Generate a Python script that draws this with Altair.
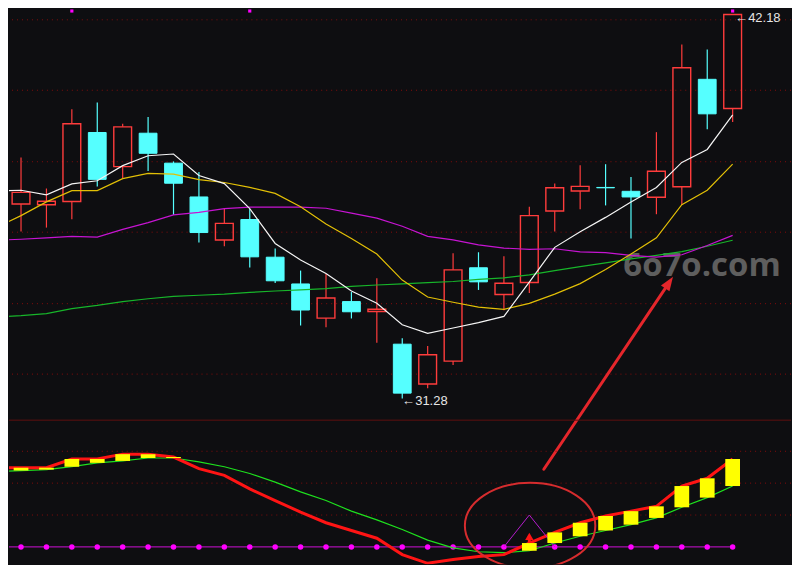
import altair as alt
import pandas as pd

# ---------------- data ----------------
idx = list(range(29))
opens = [36.80, 36.78, 36.87, 38.83, 37.86, 38.81, 37.96, 37.00, 35.78, 36.36,
         35.29, 34.53, 33.56, 34.03, 33.75, 32.82, 31.69, 32.34, 34.99, 34.23,
         34.57, 36.60, 37.17, 37.27, 37.16, 36.99, 37.29, 40.34, 39.51]
closes = [37.13, 36.88, 39.08, 37.50, 38.99, 38.24, 37.39, 35.99, 36.25, 35.30,
          34.62, 33.79, 34.13, 33.74, 33.81, 31.43, 32.52, 34.93, 34.59, 34.55,
          36.47, 37.26, 37.30, 37.26, 37.00, 37.73, 40.67, 39.36, 42.18]
highs = [38.12, 37.24, 39.49, 39.68, 39.08, 39.27, 38.01, 37.71, 36.66, 36.66,
         35.54, 34.91, 34.81, 34.30, 34.69, 32.99, 32.77, 35.40, 35.43, 35.32,
         36.72, 37.38, 37.90, 37.93, 37.57, 38.84, 41.33, 41.19, 42.18]
lows = [36.02, 36.13, 36.37, 37.30, 37.54, 37.74, 36.49, 35.71, 35.60, 35.00,
        34.56, 33.35, 33.30, 33.55, 32.86, 31.28, 31.57, 32.23, 34.36, 33.78,
        34.27, 36.02, 36.65, 36.76, 35.82, 36.51, 36.77, 38.92, 39.13]

ma_idx = list(range(-1, 29))
ma5 = [37.17, 37.19, 37.06, 37.37, 37.46, 37.89, 38.17, 38.22, 37.61, 37.38,
       36.67, 35.68, 35.21, 34.83, 34.33, 33.98, 33.37, 33.13, 33.28, 33.43,
       33.61, 34.58, 35.57, 36.01, 36.42, 36.86, 37.27, 37.98, 38.35, 39.33]
ma10 = [36.12, 36.47, 36.86, 37.18, 37.18, 37.52, 37.67, 37.65, 37.49, 37.41,
        37.27, 37.10, 36.72, 36.23, 35.82, 35.38, 34.64, 34.16, 34.01, 33.87,
        33.81, 33.98, 34.24, 34.54, 34.94, 35.38, 35.84, 36.78, 37.19, 37.93]
ma20 = [35.77, 35.80, 35.84, 35.88, 35.86, 36.08, 36.27, 36.49, 36.56, 36.67,
        36.71, 36.71, 36.71, 36.68, 36.54, 36.40, 36.17, 35.88, 35.78, 35.64,
        35.55, 35.51, 35.53, 35.44, 35.42, 35.34, 35.29, 35.36, 35.62, 35.91]
ma60 = [33.59, 33.63, 33.69, 33.83, 33.92, 34.03, 34.11, 34.18, 34.21, 34.24,
        34.29, 34.33, 34.36, 34.40, 34.46, 34.50, 34.53, 34.57, 34.60, 34.66,
        34.70, 34.79, 34.91, 35.02, 35.13, 35.24, 35.34, 35.45, 35.60, 35.77]

dif = [0.82, 0.82, 0.82, 0.91, 0.91, 0.96, 0.96, 0.93, 0.81, 0.74,
       0.60, 0.48, 0.36, 0.25, 0.17, 0.09, -0.08, -0.17, -0.13, -0.10,
       -0.08, 0.04, 0.15, 0.25, 0.32, 0.37, 0.42, 0.63, 0.71, 0.91]
dea = [0.78, 0.79, 0.80, 0.83, 0.87, 0.89, 0.92, 0.92, 0.88, 0.83,
       0.76, 0.67, 0.57, 0.48, 0.37, 0.28, 0.18, 0.07, -0.01, -0.05,
       -0.06, -0.04, 0.04, 0.11, 0.17, 0.23, 0.30, 0.41, 0.51, 0.63]
sig = [0.0] * 30

grid_levels = [42.03, 40.03, 38.00, 36.00, 33.97, 31.97]
macd_grid = [0.99, 0.66, 0.33]
top_mark_idx = [2, 9, 28]
top_mark_p = [42.28, 42.28, 42.28]
label_idx = [15.0, 28.1]
label_p = [31.21, 42.09]
label_txt = ["←31.28", "←42.18"]
wm_idx = [23.7]
wm_p = [35.05]
wm_txt = ["6o7o.com"]
tri_idx = [19, 20, 21]
tri_v = [0.0, 0.33, 0.0]
arrow_idx = [20.57, 25.50]
arrow_p = [29.27, 34.57]
ell_idx = [20.03]
ell_v = [0.22]
sm_arrow_idx = [20, 20]
sm_arrow_v = [0.04, 0.11]

# ---------------- styling ----------------
BG = "#0e0e11"
RED = "#ff3c3c"
CYAN = "#55ffff"
W, H1, H2 = 784, 412, 145

xs = alt.Scale(domain=[-0.473, 30.296], nice=False, zero=False)
ys = alt.Scale(domain=[30.677, 42.345], nice=False, zero=False)
ls = alt.Scale(domain=[-0.18, 1.317], nice=False, zero=False)


def X(f):
    return alt.X(f, type="quantitative", scale=xs, axis=None)


def Y(f):
    return alt.Y(f, type="quantitative", scale=ys, axis=None)


def L(f):
    return alt.Y(f, type="quantitative", scale=ls, axis=None)


# ---------------- main (price) panel ----------------
grid = alt.Chart(pd.DataFrame({"g": grid_levels})).mark_rule(
    color="#850c0c", strokeDash=[1, 4], strokeWidth=1
).encode(y=Y("g"))

wm = alt.Chart(pd.DataFrame({"i": wm_idx, "p": wm_p, "t": wm_txt})).mark_text(
    align="left", baseline="middle", font="Open Sans", fontWeight="bold",
    fontSize=33, color="#5e5e5e"
).encode(x=X("i"), y=Y("p"), text="t:N")

kdf = pd.DataFrame({"i": idx, "o": opens, "c": closes, "h": highs, "l": lows})
kbase = alt.Chart(kdf).transform_calculate(
    top="max(datum.o, datum.c)",
    bot="min(datum.o, datum.c)",
    xa="datum.i - 0.35",
    xb="datum.i + 0.35",
)
up = kbase.transform_filter("datum.c >= datum.o")
dn = kbase.transform_filter("datum.c < datum.o")

up_hi = up.mark_rule(color=RED, strokeWidth=1.2).encode(x=X("i"), y=Y("h"), y2="top:Q")
up_lo = up.mark_rule(color=RED, strokeWidth=1.2).encode(x=X("i"), y=Y("bot"), y2="l:Q")
up_body = up.mark_rect(filled=False, color=RED, strokeWidth=1.4).encode(
    x=X("xa"), x2="xb:Q", y=Y("top"), y2="bot:Q")
dn_wick = dn.mark_rule(color=CYAN, strokeWidth=1.2).encode(x=X("i"), y=Y("h"), y2="l:Q")
dn_body = dn.mark_rect(color=CYAN, stroke=CYAN, strokeWidth=1).encode(
    x=X("xa"), x2="xb:Q", y=Y("top"), y2="bot:Q")

mdf = pd.DataFrame({"i": ma_idx, "ma5": ma5, "ma10": ma10, "ma20": ma20, "ma60": ma60})
mbase = alt.Chart(mdf)
l60 = mbase.mark_line(color="#17b52a", strokeWidth=1.2, clip=True).encode(x=X("i"), y=Y("ma60"))
l20 = mbase.mark_line(color="#c614d2", strokeWidth=1.2, clip=True).encode(x=X("i"), y=Y("ma20"))
l10 = mbase.mark_line(color="#e2bf06", strokeWidth=1.2, clip=True).encode(x=X("i"), y=Y("ma10"))
l5 = mbase.mark_line(color="#f4f4f4", strokeWidth=1.2, clip=True).encode(x=X("i"), y=Y("ma5"))

topm = alt.Chart(pd.DataFrame({"i": top_mark_idx, "p": top_mark_p})).mark_point(
    shape="square", filled=True, size=10, color="#ff00ff", opacity=1
).encode(x=X("i"), y=Y("p"))

labels = alt.Chart(pd.DataFrame({"i": label_idx, "p": label_p, "t": label_txt})).mark_text(
    align="left", baseline="middle", font="Liberation Sans", fontSize=13, color="#e6e6e6"
).encode(x=X("i"), y=Y("p"), text="t:N")

adf = pd.DataFrame({"i": arrow_idx, "p": arrow_p})
arrow_line = alt.Chart(adf).mark_line(color="#e5262b", strokeWidth=3, strokeCap="round").encode(
    x=X("i"), y=Y("p"))
arrow_head = alt.Chart(adf.iloc[[1]]).mark_point(
    shape="M 0 -1 L 0.72 1 L -0.72 1 Z", filled=True, size=200, angle=33.6,
    color="#e5262b", opacity=1
).encode(x=X("i"), y=Y("p"))

main = alt.layer(
    grid, wm, up_hi, up_lo, up_body, dn_wick, dn_body, l60, l20, l10, l5,
    topm, labels, arrow_line, arrow_head
).properties(width=W, height=H1)

# ---------------- lower (indicator) panel ----------------
sep = alt.Chart(pd.DataFrame({"k": [0]})).mark_rule(color="#5e1010", strokeWidth=1).encode(
    y=alt.value(0.5))
lgrid = alt.Chart(pd.DataFrame({"g": macd_grid})).mark_rule(
    color="#850c0c", strokeDash=[1, 4], strokeWidth=1
).encode(y=L("g"))

ldf = pd.DataFrame({"i": ma_idx, "dif": dif, "dea": dea, "sig": sig})
lbase = alt.Chart(ldf)
sig_line = lbase.mark_line(color="#d010d8", strokeWidth=1, clip=True).encode(x=X("i"), y=L("sig"))
sig_pts = lbase.transform_filter("datum.i >= 0").mark_point(
    shape="circle", filled=True, size=30, color="#ff00ff", opacity=1
).encode(x=X("i"), y=L("sig"))
dea_line = lbase.mark_line(color="#1ee01e", strokeWidth=1.2, clip=True).encode(x=X("i"), y=L("dea"))
dif_line = lbase.mark_line(color="#ff1414", strokeWidth=3, clip=True).encode(x=X("i"), y=L("dif"))
bars = lbase.transform_filter("datum.i >= 0 && datum.dif > datum.dea").transform_calculate(
    xa="datum.i - 0.29", xb="datum.i + 0.29"
).mark_rect(color="#ffff00").encode(x=X("xa"), x2="xb:Q", y=L("dif"), y2="dea:Q")

tri = alt.Chart(pd.DataFrame({"i": tri_idx, "v": tri_v})).mark_line(
    color="#b41ccc", strokeWidth=1).encode(x=X("i"), y=L("v"))

sadf = pd.DataFrame({"i": sm_arrow_idx, "v": sm_arrow_v})
sm_shaft = alt.Chart(sadf).mark_line(color="#ff1414", strokeWidth=3).encode(x=X("i"), y=L("v"))
sm_head = alt.Chart(sadf.iloc[[1]]).mark_point(
    shape="triangle-up", filled=True, size=70, color="#ff1414", opacity=1
).encode(x=X("i"), y=L("v"))

ellipse = alt.Chart(pd.DataFrame({"i": ell_idx, "v": ell_v})).mark_point(
    shape="M -1 0 A 1 0.656 0 1 1 1 0 A 1 0.656 0 1 1 -1 0 Z",
    filled=False, size=17100, color="#d62c2e", strokeWidth=2, opacity=1, clip=True
).encode(x=X("i"), y=L("v"))

lower = alt.layer(
    sep, lgrid, sig_line, sig_pts, dea_line, dif_line, tri, bars, sm_shaft, sm_head, ellipse
).properties(width=W, height=H2)

chart = alt.vconcat(main, lower, spacing=0, bounds="flush").properties(
    padding=0, background=BG
).configure_view(strokeWidth=0)

chart.save("out.html", embed_options={"renderer": "svg", "actions": False})
